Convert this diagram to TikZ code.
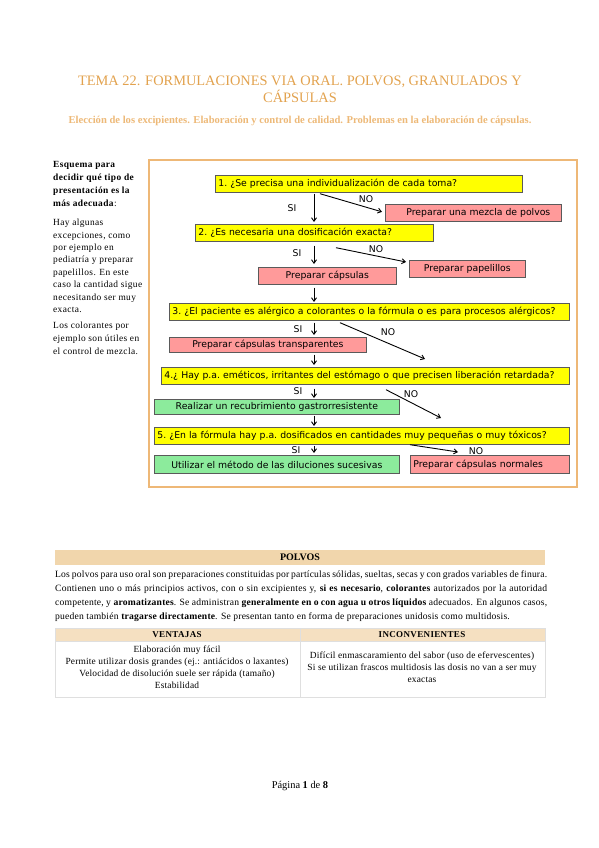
\documentclass[tikz,border=0pt]{standalone}
\usepackage{fontspec}
\setmainfont{Liberation Serif}
\newfontfamily\flowfont{DejaVu Sans}
\usepackage{xcolor}
\usetikzlibrary{arrows.meta, positioning, calc}
\definecolor{ktitle}{HTML}{E2A24E}
\definecolor{ksubtitle}{HTML}{EDB978}
\definecolor{kframe}{HTML}{EEB877}
\definecolor{kyellow}{HTML}{FFFF00}
\definecolor{kpink}{HTML}{FF9A9A}
\definecolor{kgreen}{HTML}{8CEB9C}
\definecolor{ktan}{HTML}{F1D6AC}
\definecolor{kborder}{HTML}{5A5A5A}
\newcommand{\flowsize}{\flowfont\fontsize{9.3}{11}\selectfont\frenchspacing}
\newcommand{\notesize}{\fontsize{9.4}{13}\selectfont\addfontfeature{LetterSpace=4}}
\newcommand{\bodysize}{\fontsize{9.6}{13.7}\selectfont\addfontfeature{LetterSpace=2}}
\newcommand{\tablesize}{\fontsize{9.4}{12}\selectfont\addfontfeature{LetterSpace=2}}
\tikzset{
  qbox/.style={draw=kborder, fill=kyellow, line width=0.7pt, anchor=north west,
    inner xsep=3pt, inner ysep=0pt, minimum height=17pt, text width=#1,
    align=left, font=\flowsize},
  abox/.style={draw=kborder, line width=0.7pt, anchor=north west, inner sep=0pt,
    minimum width=#1, minimum height=17pt, font=\flowsize},
  lbl/.style={font=\flowsize, inner sep=0pt},
  flow/.style={line width=0.9pt, -{Straight Barb[length=3.5pt,width=5pt]}},
  note/.style={font=\notesize, anchor=north west, align=left, inner sep=0pt},
}
\begin{document}
\begin{tikzpicture}[x=1pt, y=-1pt]

  \useasboundingbox (0,0) rectangle (599,848);

  %% Title
  \node[font=\fontsize{14.4}{17}\selectfont, text=ktitle, align=center] (title) at (300,89)
    {TEMA 22. FORMULACIONES VIA ORAL. POLVOS, GRANULADOS Y\\CÁPSULAS};
  \node[font=\fontsize{10.6}{12}\selectfont\bfseries, text=ksubtitle] (subtitle) at (300,121)
    {Elección de los excipientes. Elaboración y control de calidad. Problemas en la elaboración de cápsulas.};

  %% Side note
  \node[note] (note1) at (53,161)
    {\textbf{Esquema para}\\\textbf{decidir qué tipo de}\\\textbf{presentación es la}\\\textbf{más adecuada}:};
  \node[note, font=\fontsize{9.4}{12.4}\selectfont\addfontfeature{LetterSpace=4}] (note2) at (53,219)
    {Hay algunas\\excepciones, como\\por ejemplo en\\pediatría y preparar\\papelillos. En este\\caso la cantidad sigue\\necesitando ser muy\\exacta.};
  \node[note] (note3) at (53,322)
    {Los colorantes por\\ejemplo son útiles en\\el control de mezcla.};

  %% Frame
  \draw[kframe, line width=1.3pt] (149,160) rectangle (577,487);

  %% Flowchart boxes
  \node[qbox=301pt] (q1) at (215,175) {1. ¿Se precisa una individualización de cada toma?};
  \node[abox=176pt, fill=kpink] (mezcla) at (385,204) {\hspace{10pt}Preparar una mezcla de polvos};
  \node[qbox=232pt] (q2) at (195,224) {2. ¿Es necesaria una dosificación exacta?};
  \node[abox=116pt, fill=kpink] (papel) at (409,260) {Preparar papelillos};
  \node[abox=138pt, fill=kpink] (caps) at (258,267) {Preparar cápsulas};
  \node[qbox=394pt] (q3) at (169,303) {3. ¿El paciente es alérgico a colorantes o la fórmula o es para procesos alérgicos?};
  \node[abox=197pt, fill=kpink, minimum height=15pt] (transp) at (169,337) {Preparar cápsulas transparentes};
  \node[qbox=402pt] (q4) at (161,367) {4.¿ Hay p.a. eméticos, irritantes del estómago o que precisen liberación retardada?};
  \node[abox=245pt, fill=kgreen, minimum height=15pt] (gastro) at (154,399) {Realizar un recubrimiento gastrorresistente};
  \node[qbox=409pt] (q5) at (154,427) {5. ¿En la fórmula hay p.a. dosificados en cantidades muy pequeñas o muy tóxicos?};
  \node[abox=245pt, fill=kgreen, minimum height=18pt] (dilu) at (154,455) {Utilizar el método de las diluciones sucesivas};
  \node[abox=159pt, fill=kpink, minimum height=18pt, text width=153pt, align=left] (normal) at (410,455) {Preparar cápsulas normales};

  %% SI / NO labels
  \node[lbl] (si1) at (292,208) {SI};
  \node[lbl] (no1) at (366,199) {NO};
  \node[lbl] (si2) at (297,253) {SI};
  \node[lbl] (no2) at (376,249) {NO};
  \node[lbl] (si3) at (298,329) {SI};
  \node[lbl] (no3) at (388,332) {NO};
  \node[lbl] (si4) at (298,391) {SI};
  \node[lbl] (no4) at (411,394) {NO};
  \node[lbl] (si5) at (296,450) {SI};
  \node[lbl] (no5) at (476,451) {NO};

  %% Connectors
  \coordinate (axis) at (314,0);
  \coordinate (end3) at (425,359);
  \coordinate (end4) at (441,418);
  \coordinate (end5) at (458,452);
  \draw[flow] ([yshift=-1pt]q1.south -| axis) -- ([yshift=2pt]q2.north -| axis);
  \draw[flow] ([xshift=105pt,yshift=-1pt]q1.south west) -- ([xshift=-3pt,yshift=1pt]mezcla.west);
  \draw[flow] ([yshift=-4pt]q2.south -| axis) -- ([yshift=3pt]caps.north -| axis);
  \draw[flow] ([xshift=141pt,yshift=-6pt]q2.south west) -- ([xshift=-3pt,yshift=-2pt]papel.north west);
  \draw[flow] ([yshift=-3pt]caps.south -| axis) -- ([yshift=1pt]q3.north -| axis);
  \draw[flow] ([yshift=-2pt]q3.south -| axis) -- ([yshift=2pt]transp.north -| axis);
  \draw[flow] ([xshift=171pt,yshift=-2pt]q3.south west) -- (end3);
  \draw[flow] ([yshift=-2pt]transp.south -| axis) -- ([yshift=2pt]q4.north -| axis);
  \draw[flow] ([yshift=-4pt]q4.south -| axis) -- ([yshift=1pt]gastro.north -| axis);
  \draw[flow] ([xshift=225pt,yshift=-5pt]q4.south west) -- (end4);
  \draw[flow] ([yshift=-1pt]gastro.south -| axis) -- ([yshift=1pt]q5.north -| axis);
  \draw[flow] ([yshift=-1pt]q5.south -| axis) -- ([yshift=2pt]dilu.north -| axis);
  \draw[flow] ([xshift=256pt]q5.south west) -- (end5);

  %% POLVOS section
  \fill[ktan] (55,550) rectangle (545,565);
  \node[font=\fontsize{10}{11}\selectfont\bfseries] (polvos) at (300,557.5) {POLVOS};
  \node[font=\bodysize, anchor=north west, inner sep=0pt, text width=492pt, align=justify] (texto) at (55,571)
    {Los polvos para uso oral son preparaciones constituidas por partículas sólidas, sueltas, secas y con grados variables de finura.\linebreak
     Contienen uno o más principios activos, con o sin excipientes y, \textbf{si es necesario}, \textbf{colorantes} autorizados por la autoridad\linebreak
     competente, y \textbf{aromatizantes}. Se administran \textbf{generalmente en o con agua u otros líquidos} adecuados. En algunos casos,\linebreak
     pueden también \textbf{tragarse directamente}. Se presentan tanto en forma de preparaciones unidosis como multidosis.};

  %% Table
  \fill[ktan!75] (55,628) rectangle (545,641);
  \draw[gray!25, line width=0.6pt] (55,628) rectangle (545,697);
  \draw[gray!25, line width=0.6pt] (55,641) -- (545,641);
  \draw[gray!25, line width=0.6pt] (300,628) -- (300,697);
  \node[font=\fontsize{9}{10}\selectfont\bfseries\addfontfeature{LetterSpace=4}] (ventajas) at (177,634.5) {VENTAJAS};
  \node[font=\fontsize{9}{10}\selectfont\bfseries\addfontfeature{LetterSpace=4}] (incon) at (422,634.5) {INCONVENIENTES};
  \node[font=\tablesize, align=center] (listav) at (177,667)
    {Elaboración muy fácil\\Permite utilizar dosis grandes (ej.: antiácidos o laxantes)\\Velocidad de disolución suele ser rápida (tamaño)\\Estabilidad};
  \node[font=\tablesize, align=center] (listai) at (422,667)
    {Difícil enmascaramiento del sabor (uso de efervescentes)\\Si se utilizan frascos multidosis las dosis no van a ser muy\\exactas};

  %% Footer
  \node[font=\fontsize{10.4}{12}\selectfont] (pagina) at (300,786) {Página \textbf{1} de \textbf{8}};

\end{tikzpicture}
\end{document}
